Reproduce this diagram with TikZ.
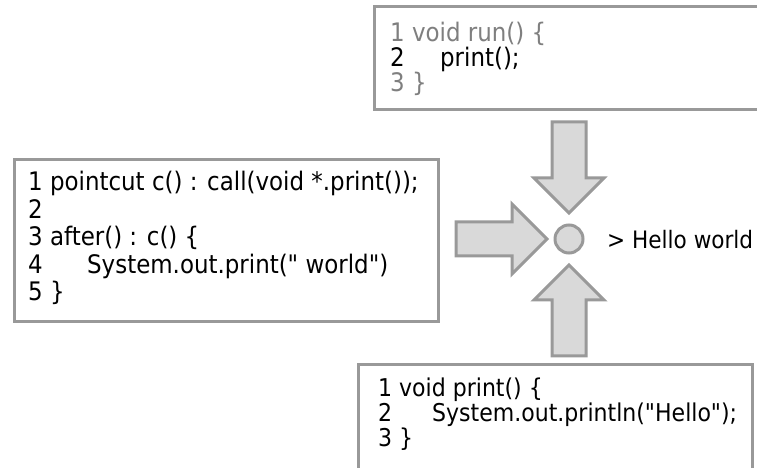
\documentclass[tikz,border=0pt]{standalone}
\usepackage{fontspec}
\setmainfont{DejaVu Sans Condensed}[Ligatures=TeXOff]
\usetikzlibrary{positioning,calc}

\definecolor{framegray}{HTML}{999999}
\definecolor{arrowfill}{HTML}{D9D9D9}
\definecolor{dimtext}{HTML}{7F7F7F}

\tikzset{
  codebox/.style={draw=framegray,line width=3pt,fill=white},
  codetext/.style={anchor=north west,inner sep=0pt,align=left},
  blockarrow/.style={draw=framegray,line width=3pt,fill=arrowfill,line join=miter},
}

% block arrow: tip point, direction angle
\newcommand\blockarrow[2]{%
  \draw[blockarrow,shift={(#1)},rotate=#2]
    (0,0) -- (-35,35) -- (-35,17) -- (-91,17) -- (-91,-17) -- (-35,-17) -- (-35,-35) -- cycle;}

\begin{document}
\begin{tikzpicture}[x=1pt,y=1pt,font=\fontsize{25.5}{27.5}\selectfont]
  \clip (0,0) rectangle (757,468);
  \fill[white] (0,0) rectangle (757,468);

  % the three code boxes
  \draw[codebox] (374,461) rectangle (775,358);
  \node[codetext,font=\fontsize{25.5}{22.5}\selectfont] (runcode) at (390,446)
    {{\color{dimtext}1 void run() \{}\\
     \makebox[50pt][l]{2}print();\\
     {\color{dimtext}3 \}}};

  \draw[codebox] (14,308) rectangle (438,146);
  \node[codetext] (aspectcode) at (28,297)
    {1 pointcut c() : call(void *.print());\\
     2\\
     3 after() : c() \{\\
     \makebox[59pt][l]{4}System.out.print(" world")\\
     5 \}};

  \draw[codebox] (358,103) rectangle (752,-20);
  \node[codetext,font=\fontsize{24.5}{25}\selectfont] (printcode) at (378,90)
    {1 void print() \{\\
     \makebox[54pt][l]{2}System.out.println("Hello");\\
     3 \}};

  % join point and output
  \node[circle,draw=framegray,line width=3pt,fill=arrowfill,minimum size=28pt,inner sep=0pt] (joinpt) at (569,229) {};
  \node[anchor=west,inner sep=0pt,font=\fontsize{24}{27}\selectfont] (output) at (607,228) {> Hello world};

  \coordinate (downtip) at ($(joinpt.center)+(0,26)$);
  \coordinate (uptip) at ($(joinpt.center)+(0,-26)$);
  \coordinate (righttip) at ($(joinpt.center)+(-22,0)$);

  \blockarrow{downtip}{-90}
  \blockarrow{uptip}{90}
  \blockarrow{righttip}{0}
\end{tikzpicture}
\end{document}
